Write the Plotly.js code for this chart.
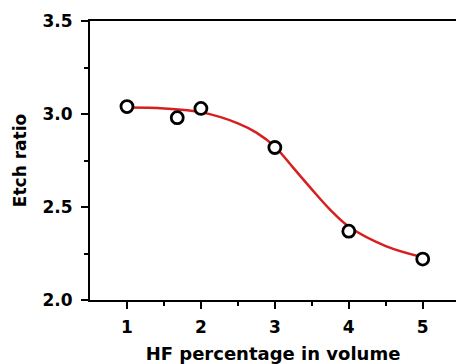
<!DOCTYPE html>
<html>
<head>
<meta charset="utf-8">
<script src="https://cdn.plot.ly/plotly-3.0.1.min.js"></script>
<style>html,body{margin:0;padding:0;background:#fff;}#chart{width:456px;height:364px;}</style>
</head>
<body>
<div id="chart"></div>
<script>
const hfPercent = [1, 1.68, 2, 3, 4, 5];
const etchRatio = [3.04, 2.98, 3.03, 2.82, 2.37, 2.22];
const fitX = [1, 1.5, 2, 2.5, 2.75, 3, 3.25, 3.5, 3.75, 4, 4.5, 5];
const fitY = [3.035, 3.03, 3.01, 2.95, 2.90, 2.825, 2.71, 2.595, 2.485, 2.395, 2.29, 2.23];

const font = "'DejaVu Sans', Verdana, sans-serif";
const traces = [
  {x: fitX, y: fitY, mode: 'lines', line: {color: '#d62020', width: 2.5, shape: 'spline', smoothing: 1}, hoverinfo: 'skip'},
  {x: hfPercent, y: etchRatio, mode: 'markers',
   marker: {symbol: 'circle', size: 12, color: '#ffffff', line: {color: '#000000', width: 2.8}}}
];
const layout = {
  width: 456, height: 364,
  margin: {l: 90, r: 0, t: 21, b: 64},
  showlegend: false,
  paper_bgcolor: '#fff', plot_bgcolor: '#fff',
  font: {family: font, color: '#000'},
  xaxis: {
    range: [0.5, 5.45], tickvals: [1,2,3,4,5], ticktext: ['1','2','3','4','5'],
    showline: true, linecolor: '#000', linewidth: 2, mirror: true,
    ticks: 'outside', ticklen: 7, tickwidth: 2, tickcolor: '#000',
    minor: {tickvals: [1.5,2.5,3.5,4.5], ticks: 'outside', ticklen: 4, tickwidth: 2, tickcolor: '#000', showgrid: false},
    showgrid: false, zeroline: false, ticklabelstandoff: 4,
    tickfont: {family: font, size: 17, weight: 'bold'},
    title: {text: '<b>HF percentage in volume</b>', font: {family: font, size: 18}, standoff: 12}
  },
  yaxis: {
    range: [2.0, 3.5], tickvals: [2.0, 2.5, 3.0, 3.5], ticktext: ['2.0','2.5','3.0','3.5'],
    showline: true, linecolor: '#000', linewidth: 2,
    ticks: 'outside', ticklen: 7, tickwidth: 2, tickcolor: '#000',
    minor: {tickvals: [2.25, 2.75, 3.25], ticks: 'outside', ticklen: 4, tickwidth: 2, tickcolor: '#000', showgrid: false},
    showgrid: false, zeroline: false, ticklabelstandoff: 5,
    tickfont: {family: font, size: 17, weight: 'bold'},
    title: {text: '<b>Etch ratio</b>', font: {family: font, size: 17}, standoff: 12}
  }
};
Plotly.newPlot('chart', traces, layout, {displayModeBar: false, staticPlot: true});
</script>
</body>
</html>
